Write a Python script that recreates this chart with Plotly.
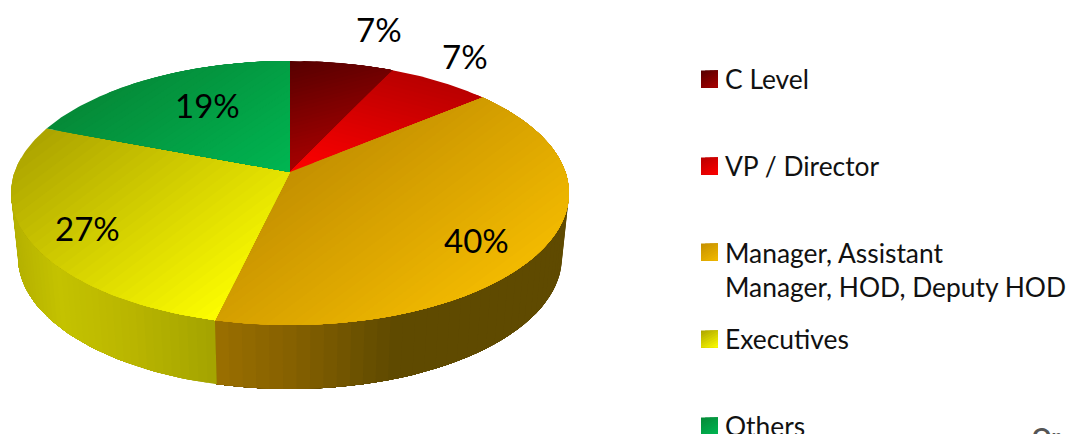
import math
import numpy as np
import plotly.graph_objects as go

categories = ["C Level", "VP / Director", "Manager, Assistant<br>Manager, HOD, Deputy HOD", "Executives", "Others"]
shares = [7.0, 7.0, 39.7, 27.1, 19.2]
top_dark = ["#560000", "#b80000", "#c49000", "#aca400", "#058a38"]
top_light = ["#a80000", "#ff0000", "#f2ba00", "#fdfd00", "#00b652"]
top_dirs = [(0.25, 0.97), (-0.25, 0.97), (0.6, 0.8), (0.6, 0.8), (0.55, 0.83)]
side_stops = {
    2: [(216, "#9c7000"), (300, "#856000"), (400, "#5f4a00"), (570, "#5f4a00")],
    3: [(10, "#b4b000"), (60, "#c4c200"), (130, "#bab600"), (217, "#a4a400")],
}
legend_y = [79, 166, 252, 339, 426]
corner_text = "Or"

CX, CY, KX, KY, PERSP = 290.0, 172.0, 275.4, 128.7, 0.159
DEPTH, SHRINK = 64.0, 0.975


def hex_rgb(h):
    return np.array([int(h[i:i + 2], 16) for i in (1, 3, 5)], float)


def mix(a, b, t):
    c = hex_rgb(a) * (1 - t) + hex_rgb(b) * t
    return "rgb(%d,%d,%d)" % tuple(c.round())


def project(theta):
    u, v = np.sin(theta), np.cos(theta)
    d = 1 + PERSP * v
    return CX + KX * u / d, CY - KY * v / d


def clip(poly, n, limit):
    out = []
    for i in range(len(poly)):
        p, q = poly[i], poly[(i + 1) % len(poly)]
        dp, dq = p[0] * n[0] + p[1] * n[1] - limit, q[0] * n[0] + q[1] * n[1] - limit
        if dp >= 0:
            out.append(p)
        if dp * dq < 0:
            t = dp / (dp - dq)
            out.append((p[0] + t * (q[0] - p[0]), p[1] + t * (q[1] - p[1])))
    return out


fig = go.Figure()


def add_poly(poly, color):
    xs = [p[0] for p in poly] + [poly[0][0]]
    ys = [p[1] for p in poly] + [poly[0][1]]
    fig.add_trace(go.Scatter(x=xs, y=ys, mode="lines", fill="toself", fillcolor=color,
                             line=dict(color=color, width=0), hoverinfo="skip", showlegend=False))


def add_gradient(poly, dark, light, direction, bands):
    # painter's order: each band covers everything from its start to the far end
    n = np.array(direction, float)
    n /= np.hypot(*n)
    proj = [p[0] * n[0] + p[1] * n[1] for p in poly]
    lo, hi = min(proj), max(proj)
    for b in range(bands):
        part = clip(poly, n, lo + (hi - lo) * b / bands)
        if len(part) >= 3:
            add_poly(part, mix(dark, light, (b + 0.5) / bands))


def stop_color(stops, x):
    for (x0, c0), (x1, c1) in zip(stops, stops[1:]):
        if x <= x1:
            return mix(c0, c1, max(0.0, (x - x0) / (x1 - x0)))
    return stops[-1][1]


edges = np.cumsum([0.0] + shares) / sum(shares) * 2 * math.pi

# side wall (front arc only: from the right silhouette to the left one)
limit = math.acos(-PERSP)
for i, stops in side_stops.items():
    a0, a1 = max(edges[i], limit), min(edges[i + 1], 2 * math.pi - limit)
    ts = np.linspace(a0, a1, 40)
    for k in range(len(ts) - 1):
        xs, ys = project(ts[k:])
        top = list(zip(xs.tolist(), ys.tolist()))
        bottom = [(CX + (x - CX) * SHRINK, y + DEPTH) for x, y in top]
        add_poly(top + bottom[::-1], stop_color(stops, float(xs[0])))

# top face
for i in range(len(shares)):
    ts = np.linspace(edges[i], edges[i + 1], 90)
    xs, ys = project(ts)
    poly = [(CX, CY)] + list(zip(xs.tolist(), ys.tolist()))
    add_gradient(poly, top_dark[i], top_light[i], top_dirs[i], 30)

# legend swatches
for i, y in enumerate(legend_y):
    square = [(701, y - 8.5), (718, y - 8.5), (718, y + 8.5), (701, y + 8.5)]
    add_gradient(square, top_dark[i], top_light[i], (0.5, 0.85), 10)

# percent labels
label_xy = [(379, 29), (465, 56), (476, 240), (87, 228), (207, 105)]
annotations = [dict(x=x, y=y, text="%d%%" % round(s), showarrow=False, xanchor="center", yanchor="middle",
                    font=dict(family="Lato", size=33, color="black"))
               for (x, y), s in zip(label_xy, shares)]
for c, y in zip(categories, legend_y):
    n = c.count("<br>")
    annotations.append(dict(x=723, y=y - 0.5 + n * 18, text=c, showarrow=False, xanchor="left", yanchor="middle",
                            align="left", font=dict(family="Lato", size=26.4, color="#111111")))
annotations.append(dict(x=1030, y=420, text=corner_text, showarrow=False, xanchor="left", yanchor="top",
                        font=dict(family="Lato", size=24, color="#555555", weight="bold")))

fig.update_layout(
    width=1071, height=434, margin=dict(l=0, r=0, t=0, b=0), autosize=False,
    paper_bgcolor="white", plot_bgcolor="white", showlegend=False, annotations=annotations,
    xaxis=dict(range=[0, 1071], visible=False, fixedrange=True),
    yaxis=dict(range=[434, 0], visible=False, fixedrange=True),
)
fig.write_html("out.html", config=dict(displayModeBar=False),
               post_script="document.body.style.margin='0';document.body.style.overflow='hidden';"
                           "var s=document.createElement('style');"
                           "s.textContent='text{font-variant-ligatures:none}';document.head.appendChild(s);")
